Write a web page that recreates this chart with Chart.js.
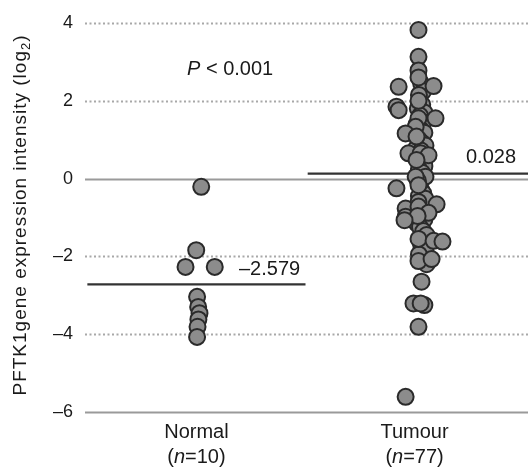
<!DOCTYPE html>
<html>
<head>
<meta charset="utf-8">
<script src="https://cdn.jsdelivr.net/npm/chart.js@4/dist/chart.umd.min.js"></script>
<style>
html,body{margin:0;padding:0;background:#fff;}
#wrap{width:528px;height:467px;}
</style>
</head>
<body>
<div id="wrap"><canvas id="c" width="528" height="467"></canvas></div>
<script>
// ---- data ----
const categories = ["Normal", "Tumour"];
const categoryCounts = [10, 77];
const yTicks = [4, 2, 0, -2, -4, -6];
const meanLabels = ["\u20132.579", "0.028"];
const meanValues = [-2.72, 0.13];          // drawn position of the mean bars
const pValueText = "< 0.001";

// Normal group (x jitter around category 0, y values)
const normalX = [0.022, -0.001, -0.050, 0.084, 0.003, 0.008, 0.014, 0.009, 0.005, 0.003];
const normalY = [-0.21, -1.84, -2.27, -2.27, -3.04, -3.30, -3.46, -3.62, -3.81, -4.07];

// Tumour group (x jitter around category 1, y values)
const tumourX = [
  1.030, 1.040, 1.020, 1.035, 1.015, 1.045, 1.025, 1.040, 1.010, 1.030,
  1.045, 1.020, 1.035, 1.050, 1.010, 1.030, 1.040, 1.025, 1.045, 1.020,
  1.035, 1.050, 1.015, 1.030, 1.040, 1.020, 1.050, 1.030, 1.045, 1.010,
  1.025, 1.040, 1.055, 1.030, 1.050, 1.020, 1.055, 1.045,
  1.018, 1.018, 1.018, 1.018, 0.927, 1.087, 1.018, 0.917, 0.927, 1.018,
  1.096, 1.005, 0.959, 1.009, 0.972, 1.028, 1.064, 1.009, 1.005, 1.018,
  0.917, 1.018, 1.101, 0.959, 1.018, 1.064, 0.959, 1.014, 0.954, 1.018,
  1.087, 1.128, 1.018, 1.078, 1.032, 0.995, 1.028, 1.018, 0.959
];
const tumourY = [
  2.45, 2.25, 2.15, 1.90, 1.80, 1.70, 1.62, 1.45, 1.40, 1.25,
  1.18, 1.00, 0.92, 0.85, 0.80, 0.72, 0.55, 0.40, 0.32, 0.25,
  0.15, 0.05, -0.05, -0.28, -0.38, -0.45, -0.52, -0.82, -1.05, -1.15,
  -1.25, -1.35, -1.45, -1.70, -1.85, -1.95, -2.20, -3.25,
  3.82, 3.13, 2.78, 2.60, 2.36, 2.38, 2.00, 1.85, 1.76, 1.55,
  1.55, 1.33, 1.16, 1.08, 0.65, 0.65, 0.60, 0.48, 0.05, -0.17,
  -0.25, -0.60, -0.66, -0.77, -0.72, -0.88, -0.98, -0.96, -1.07, -1.55,
  -1.60, -1.62, -2.12, -2.07, -2.65, -3.21, -3.21, -3.81, -5.61
];

// ---- build ----
const FONT = '"Liberation Sans", Arial, Helvetica, sans-serif';
const toPts = (xs, ys) => xs.map((x, i) => ({x: x, y: ys[i]}));
const meanSpans = [[-0.5, 0.5], [0.51, 1.52]];

const pointStyle = {
  pointRadius: 8, pointHoverRadius: 8, pointBorderWidth: 2,
  pointBackgroundColor: '#8c8c8c', pointBorderColor: '#2a2a2a',
  showLine: false, clip: false, order: 1
};

const datasets = [
  Object.assign({data: toPts(normalX, normalY)}, pointStyle),
  Object.assign({data: toPts(tumourX, tumourY)}, pointStyle)
];
meanValues.forEach((m, i) => {
  datasets.push({
    data: [{x: meanSpans[i][0], y: m}, {x: meanSpans[i][1], y: m}],
    showLine: true, pointRadius: 0, borderColor: '#333333', borderWidth: 2.2,
    order: 2, clip: false
  });
});

const gridPlugin = {
  id: 'grid',
  beforeDatasetsDraw(chart) {
    const ctx = chart.ctx, ys = chart.scales.y, a = chart.chartArea;
    ctx.save();
    yTicks.forEach(v => {
      const y = Math.round(ys.getPixelForValue(v)) + 0.5;
      ctx.beginPath();
      if (v === 0 || v === yTicks[yTicks.length - 1]) {
        ctx.setLineDash([]);
        ctx.strokeStyle = '#9a9a9a';
        ctx.lineWidth = 2;
      } else {
        ctx.setLineDash([2, 2.5]);
        ctx.strokeStyle = '#a8a8a8';
        ctx.lineWidth = 2;
      }
      ctx.moveTo(a.left + 2, y);
      ctx.lineTo(a.right, y);
      ctx.stroke();
    });
    ctx.restore();
  }
};

const textPlugin = {
  id: 'texts',
  afterDraw(chart) {
    const ctx = chart.ctx, xs = chart.scales.x, ys = chart.scales.y;
    ctx.save();
    ctx.fillStyle = '#1a1a1a';
    ctx.textBaseline = 'alphabetic';
    const f = (style, size) => style + ' ' + size + 'px ' + FONT;
    const S = 20;

    // P value
    ctx.textAlign = 'left';
    ctx.font = f('italic', S);
    ctx.fillText('P', 187, 75);
    const pw = ctx.measureText('P').width;
    ctx.font = f('normal', S);
    ctx.fillText(' ' + pValueText, 187 + pw, 75);

    // mean labels
    ctx.fillText(meanLabels[0], 239, 275);
    ctx.fillText(meanLabels[1], 466, 163);

    // x category labels
    categories.forEach((c, i) => {
      const x = xs.getPixelForValue(i);
      ctx.textAlign = 'center';
      ctx.font = f('normal', S);
      ctx.fillText(c, x, 438);
      const open = '(', mid = '=' + categoryCounts[i] + ')';
      const wo = ctx.measureText(open).width, wm = ctx.measureText(mid).width;
      ctx.font = f('italic', S);
      const wn = ctx.measureText('n').width;
      let sx = x - (wo + wn + wm) / 2;
      ctx.textAlign = 'left';
      ctx.font = f('normal', S);
      ctx.fillText(open, sx, 463);
      ctx.font = f('italic', S);
      ctx.fillText('n', sx + wo, 463);
      ctx.font = f('normal', S);
      ctx.fillText(mid, sx + wo + wn, 463);
    });

    // y axis title with subscript
    const main = 'PFTK1gene expression intensity (log', sub = '2', close = ')';
    try { ctx.letterSpacing = '1px'; } catch (e) {}
    ctx.font = f('normal', 19);
    const w1 = ctx.measureText(main).width, w3 = ctx.measureText(close).width;
    ctx.font = f('normal', 13);
    const w2 = ctx.measureText(sub).width;
    const total = w1 + w2 + w3;
    const cy = 215;
    ctx.translate(26, cy);
    ctx.rotate(-Math.PI / 2);
    ctx.textAlign = 'left';
    let sx = -total / 2;
    ctx.font = f('normal', 19);
    ctx.fillText(main, sx, 0);
    ctx.font = f('normal', 13);
    ctx.fillText(sub, sx + w1, 4);
    ctx.font = f('normal', 19);
    ctx.fillText(close, sx + w1 + w2, 0);
    ctx.restore();
  }
};

new Chart(document.getElementById('c'), {
  type: 'scatter',
  data: {datasets: datasets},
  options: {
    responsive: false,
    animation: false,
    events: [],
    layout: {autoPadding: false, padding: {top: 23, right: 0, bottom: 0, left: 0}},
    plugins: {legend: {display: false}, tooltip: {enabled: false}, title: {display: false}},
    scales: {
      x: {
        type: 'linear', min: -0.52, max: 1.52,
        grid: {display: false}, border: {display: false},
        ticks: {display: false},
        afterFit(s) { s.height = 55; }
      },
      y: {
        type: 'linear', min: -6, max: 4,
        afterBuildTicks(s) { s.ticks = yTicks.map(v => ({value: v})); },
        grid: {display: false, drawTicks: false}, border: {display: false},
        ticks: {
          padding: 10, color: '#1a1a1a',
          font: {family: FONT, size: 18},
          callback: v => (v < 0 ? '\u2013' + Math.abs(v) : String(v))
        },
        afterFit(s) { s.width = 83; }
      }
    }
  },
  plugins: [gridPlugin, textPlugin]
});
</script>
</body>
</html>
